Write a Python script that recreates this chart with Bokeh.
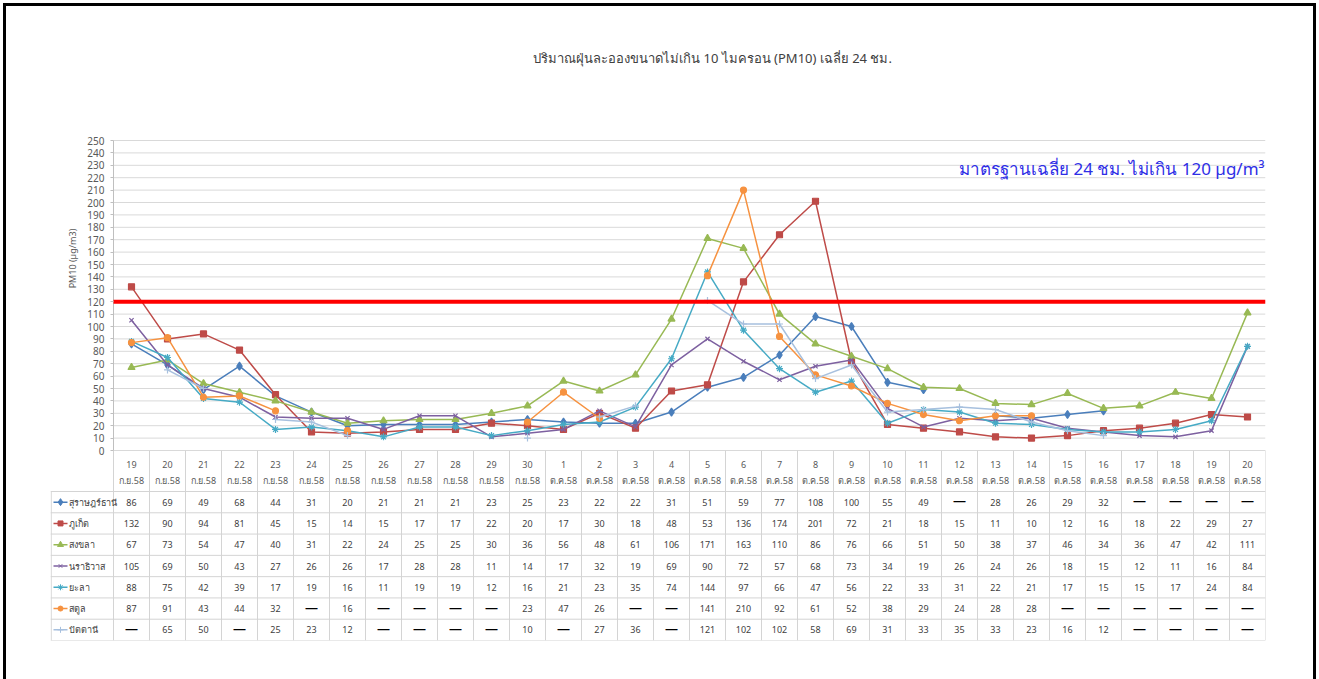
import math
from bokeh.plotting import figure
from bokeh.models import Range1d, FixedTicker, Span, Label
from bokeh.layouts import column
from bokeh.core.properties import value
from bokeh.embed import file_html
from bokeh.resources import INLINE

TITLE = "ปริมาณฝุ่นละอองขนาดไม่เกิน 10 ไมครอน (PM10) เฉลี่ย 24 ชม."
Y_LABEL = "PM10 (µg/m3)"
STANDARD_TEXT = "มาตรฐานเฉลี่ย 24 ชม. ไม่เกิน 120 µg/m³"
STANDARD = 120
Y_MAX = 250
Y_TICKS = list(range(0, 251, 10))

DAYS = ["19", "20", "21", "22", "23", "24", "25", "26", "27", "28", "29", "30",
        "1", "2", "3", "4", "5", "6", "7", "8", "9", "10", "11", "12", "13", "14",
        "15", "16", "17", "18", "19", "20"]
MONTHS = ["ก.ย.58"] * 12 + ["ต.ค.58"] * 20

SERIES = ["สุราษฎร์ธานี", "ภูเก็ต", "สงขลา", "นราธิวาส", "ยะลา", "สตูล", "ปัตตานี"]

SURAT = [86, 69, 49, 68, 44, 31, 20, 21, 21, 21, 23, 25,
         23, 22, 22, 31, 51, 59, 77, 108, 100, 55, 49, None, 28, 26, 29, 32, None, None, None, None]
PHUKET = [132, 90, 94, 81, 45, 15, 14, 15, 17, 17, 22, 20,
          17, 30, 18, 48, 53, 136, 174, 201, 72, 21, 18, 15, 11, 10, 12, 16, 18, 22, 29, 27]
SONGKHLA = [67, 73, 54, 47, 40, 31, 22, 24, 25, 25, 30, 36,
            56, 48, 61, 106, 171, 163, 110, 86, 76, 66, 51, 50, 38, 37, 46, 34, 36, 47, 42, 111]
NARATHIWAT = [105, 69, 50, 43, 27, 26, 26, 17, 28, 28, 11, 14,
              17, 32, 19, 69, 90, 72, 57, 68, 73, 34, 19, 26, 24, 26, 18, 15, 12, 11, 16, 84]
YALA = [88, 75, 42, 39, 17, 19, 16, 11, 19, 19, 12, 16,
        21, 23, 35, 74, 144, 97, 66, 47, 56, 22, 33, 31, 22, 21, 17, 15, 15, 17, 24, 84]
SATUN = [87, 91, 43, 44, 32, None, 16, None, None, None, None, 23,
         47, 26, None, None, 141, 210, 92, 61, 52, 38, 29, 24, 28, 28, None, None, None, None, None, None]
PATTANI = [None, 65, 50, None, 25, 23, 12, None, None, None, None, 10,
           None, 27, 36, None, 121, 102, 102, 58, 69, 31, 33, 35, 33, 23, 16, 12, None, None, None, None]

DATA = [SURAT, PHUKET, SONGKHLA, NARATHIWAT, YALA, SATUN, PATTANI]
COLORS = ["#4A7EBB", "#BE4B48", "#98B954", "#7D60A0", "#46AAC5", "#F69240", "#A7C0DE"]
MARKERS = ["diamond", "square", "triangle", "x", "asterisk", "circle", "cross"]
MSIZES = [8, 6, 7, 6, 7, 6, 7]

FONT = "Noto Sans"
n = len(DAYS)
rows = len(SERIES)
xs = [i + 0.5 for i in range(n)]

# ---- layout geometry (pixels of the page) ----
FIG_X0, FIG_Y0 = 8, 8
FIG_W, FIG_H = 1303, 671
FRAME_L, FRAME_R = 50, 1265          # frame covers label column + chart
FRAME_T, FRAME_B = 20, 640
PLOT_L = 113                          # chart area left (x = 0)
ZERO_Y, TOP_Y = 450, 140              # page y of value 0 and value Y_MAX
HEAD_B = 491                          # bottom of date header row
COL_PX = (FRAME_R - PLOT_L) / n
UNIT_PX = (ZERO_Y - TOP_Y) / Y_MAX
ROW_PX = (FRAME_B - HEAD_B) / rows
LABEL_W = (PLOT_L - FRAME_L) / COL_PX


def vy(py):
    return (ZERO_Y - py) / UNIT_PX


def vx(px):
    return (px - PLOT_L) / COL_PX


p = figure(width=FIG_W, height=FIG_H,
           x_range=Range1d(vx(FRAME_L), vx(FRAME_R)), y_range=Range1d(vy(FRAME_B), vy(FRAME_T)),
           output_backend="svg", toolbar_location=None, x_axis_location=None,
           min_border_left=FRAME_L - FIG_X0, min_border_right=FIG_X0 + FIG_W - FRAME_R,
           min_border_top=FRAME_T - FIG_Y0, min_border_bottom=FIG_Y0 + FIG_H - FRAME_B)
p.outline_line_color = None
p.grid.visible = False
p.background_fill_color = "white"
p.border_fill_color = "white"

ax = p.yaxis[0]
ax.fixed_location = 0
ax.ticker = FixedTicker(ticks=Y_TICKS)
ax.minor_tick_line_color = None
ax.major_tick_in = 0
ax.major_tick_out = 3
ax.major_tick_line_color = "#bfbfbf"
ax.axis_line_color = None
ax.major_label_text_font = FONT
ax.major_label_text_font_size = "10px"
ax.major_label_text_color = "#595959"
ax.major_label_standoff = 6

GRID = "#d9d9d9"
# horizontal gridlines of the chart area
p.segment(x0=[0] * len(Y_TICKS), y0=Y_TICKS, x1=[n] * len(Y_TICKS), y1=Y_TICKS,
          line_color=GRID, line_width=1)
# chart axis line
p.segment(x0=[0], y0=[0], x1=[0], y1=[Y_MAX], line_color="#bfbfbf", line_width=1)

for vals, col, mk, ms in zip(DATA, COLORS, MARKERS, MSIZES):
    ys = [math.nan if v is None else v for v in vals]
    p.line(xs, ys, line_color=col, line_width=1.5)
    p.scatter(xs, ys, marker=mk, size=ms, line_color=col, fill_color=col, line_width=1.2)

p.segment(x0=[0], y0=[STANDARD], x1=[n], y1=[STANDARD], line_color="#FF0000", line_width=4)

p.add_layout(Label(x=vx(712), y=vy(57), text=TITLE, text_align="center", text_baseline="middle",
                   text_font=FONT, text_font_size="13px", text_color="#404040"))
p.add_layout(Label(x=vx(72), y=vy(258), text=Y_LABEL, angle=math.pi / 2, text_align="center",
                   text_baseline="middle", text_font=FONT, text_font_size="9px", text_color="#595959"))
p.add_layout(Label(x=vx(1264), y=vy(168), text=STANDARD_TEXT, text_align="right", text_baseline="middle",
                   text_font=FONT, text_font_size="17px", text_color="#2E2EE6"))

# ---------------- table ----------------
TGRID = "#d4d4d4"
y_head_top = 0
y_head_bot = vy(HEAD_B)
row_edges = [vy(HEAD_B + j * ROW_PX) for j in range(rows + 1)]
row_mid = [vy(HEAD_B + (j + 0.5) * ROW_PX) for j in range(rows)]
y_bottom = row_edges[-1]

cx = list(range(n + 1))
p.segment(x0=cx, y0=[y_head_top] * len(cx), x1=cx, y1=[y_bottom] * len(cx), line_color=TGRID, line_width=1)
p.segment(x0=[-LABEL_W + 0.02], y0=[y_head_bot], x1=[-LABEL_W + 0.02], y1=[y_bottom], line_color=TGRID, line_width=1)
p.segment(x0=[-LABEL_W] * len(row_edges), y0=row_edges, x1=[n] * len(row_edges), y1=row_edges,
          line_color=TGRID, line_width=1)

p.text(x=xs, y=[vy(464)] * n, text=DAYS, text_align="center", text_baseline="middle",
       text_font=value(FONT), text_font_size="9px", text_color="#595959")
p.text(x=xs, y=[vy(480)] * n, text=MONTHS, text_align="center", text_baseline="middle",
       text_font=value(FONT), text_font_size="9px", text_color="#595959")

key_x0, key_x1, key_m, name_x = vx(53), vx(67), vx(60), vx(68)
for j, (name, vals, col, mk, ms) in enumerate(zip(SERIES, DATA, COLORS, MARKERS, MSIZES)):
    yc = row_mid[j]
    vx_, vt_, dx_ = [], [], []
    for i, v in enumerate(vals):
        if v is None:
            dx_.append(xs[i])
        else:
            vx_.append(xs[i])
            vt_.append(str(v))
    p.text(x=vx_, y=[yc] * len(vx_), text=vt_, text_align="center", text_baseline="middle",
           text_font=value(FONT), text_font_size="9px", text_color="#404040")
    if dx_:
        p.text(x=dx_, y=[yc + 2 / UNIT_PX] * len(dx_), text=["—"] * len(dx_), text_align="center",
               text_baseline="middle", text_font=value(FONT), text_font_size="13px",
               text_font_style="bold", text_color="#000000")
    p.segment(x0=[key_x0], y0=[yc], x1=[key_x1], y1=[yc], line_color=col, line_width=1.5)
    p.scatter(x=[key_m], y=[yc], marker=mk, size=ms - 1, line_color=col, fill_color=col)
    p.text(x=[name_x], y=[yc], text=[name], text_align="left", text_baseline="middle",
           text_font=value(FONT), text_font_size="9px", text_color="#404040")

layout = column(p, styles={"margin-left": "8px", "margin-top": "8px",
                           "outline": "3px solid #000", "outline-offset": "2px",
                           "clip-path": "inset(-10px -10px 0px -10px)"})

open("out.html", "w").write(file_html(layout, INLINE))
